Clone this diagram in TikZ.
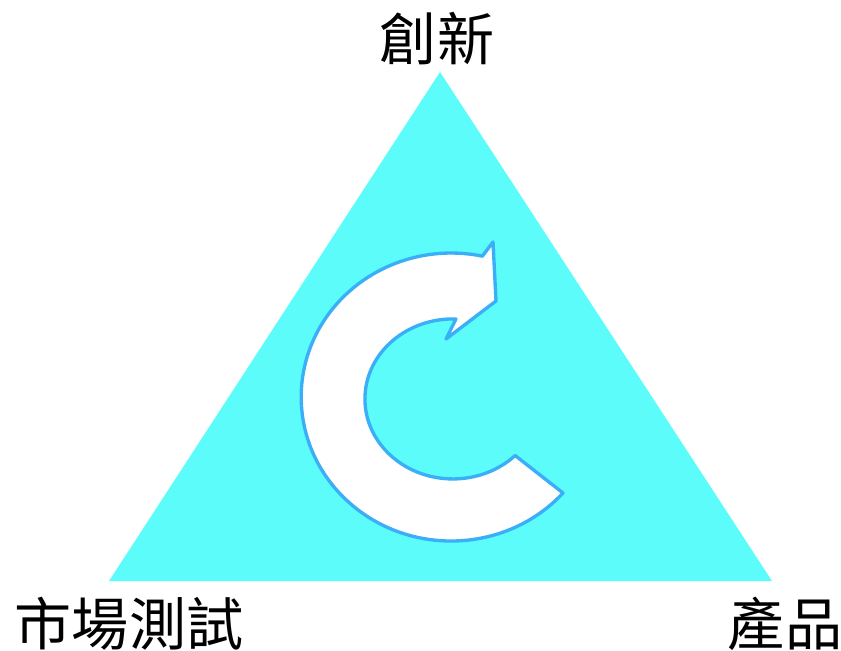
\documentclass[tikz,border=0pt]{standalone}
\usepackage{fontspec}
\newfontfamily\cjk{Noto Sans CJK TC}
\definecolor{tri}{HTML}{5CFCFA}
\definecolor{ring}{HTML}{3AAFF8}
\begin{document}
\begin{tikzpicture}[x=0.02cm,y=-0.02cm,
  lbl/.style={font=\cjk\fontsize{32.5}{37}\selectfont, inner sep=0pt, anchor=center},
  arrowshape/.style={fill=white, draw=ring, line width=1.9pt, line join=round}]
\useasboundingbox (0,0) rectangle (841,651);
\coordinate (top) at (440,72);
\coordinate (bl) at (109,581);
\coordinate (br) at (772,581);
\fill[tri] (top) -- (br) -- (bl) -- cycle;
\coordinate (c) at (453,399);
\coordinate (lo) at (563,493);
\draw[arrowshape] (lo)
  arc[start angle=-318.2, end angle=-78, x radius=150, y radius=144]
  -- (493,242) -- (496,301) -- (446,339) -- (456,319)
  arc[start angle=-88, end angle=-315, x radius=88, y radius=80]
  -- cycle;
\node[lbl] (inno) at (437,39) {創新};
\node[lbl] (market) at (129,624) {市場測試};
\node[lbl] (prod) at (785,624) {產品};
\end{tikzpicture}
\end{document}
